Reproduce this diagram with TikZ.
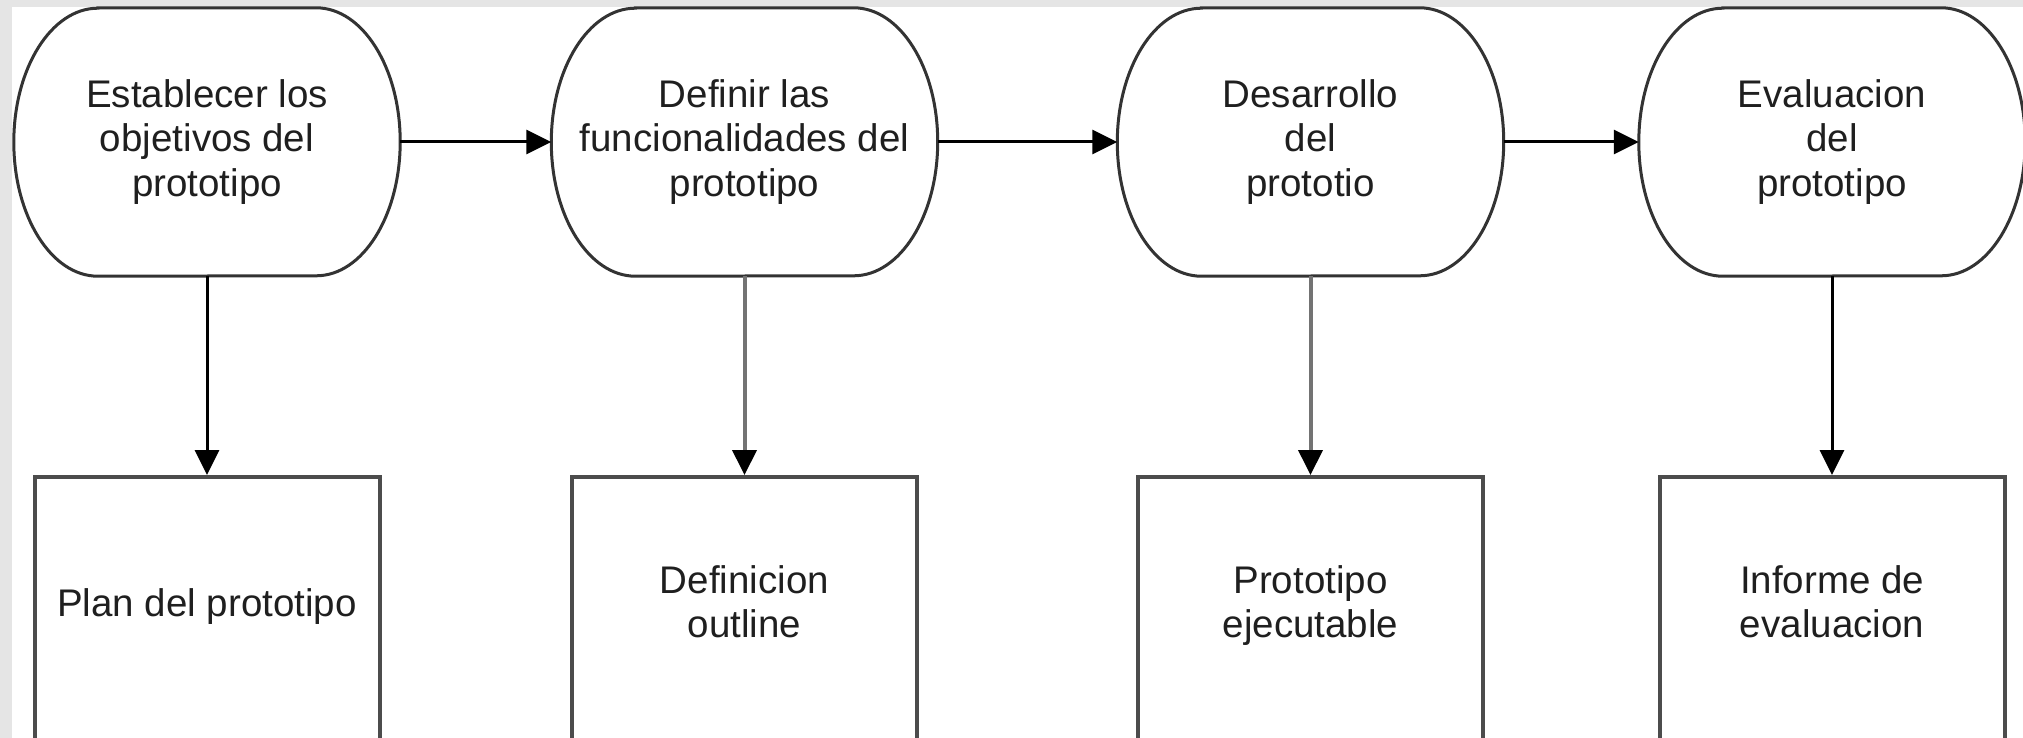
\documentclass[tikz,border=0pt]{standalone}
\usepackage{fontspec}
\setmainfont{Liberation Sans}
\usetikzlibrary{arrows.meta}
\begin{document}
\begin{tikzpicture}[x=1pt,y=1pt,
  txt/.style={align=center, font=\fontsize{38.5}{44.5}\selectfont, text=black!88, inner sep=0pt},
  term/.style={txt, minimum width=386pt, minimum height=268pt, draw=none},
  termline/.style={draw=black!80, line width=3pt},
  outbox/.style={draw=black!70, line width=4pt, fill=white, minimum width=345pt, minimum height=300pt, inner sep=0pt},
  flow/.style={draw=black, line width=3pt, -{Triangle[length=25pt,width=24pt,color=black]}},
  flowgray/.style={flow, draw=black!55, line width=4pt}
]
\useasboundingbox (0,0) rectangle (2023,-738);
\clip (0,0) rectangle (2023,-738);
\fill[black!10] (0,0) rectangle (2023,-738);
\fill[white] (12,-7) rectangle (2023,-738);

% terminator nodes
\node[term] (s1) at (207,-142) {Establecer los\\objetivos del\\prototipo};
\node[term] (s2) at (744.5,-142) {Definir las\\funcionalidades del\\prototipo};
\node[term] (s3) at (1310.5,-142) {Desarrollo\\del\\prototio};
\node[term] (s4) at (1832,-142) {Evaluacion\\del\\prototipo};

\foreach \s in {s1,s2,s3,s4}{
  \draw[termline] ([xshift=84pt]\s.north west) -- ([xshift=-84pt]\s.north east)
    arc[start angle=90, end angle=-90, x radius=84pt, y radius=134pt]
    -- ([xshift=84pt]\s.south west)
    arc[start angle=270, end angle=90, x radius=84pt, y radius=134pt] -- cycle;
}

% output boxes
\node[outbox, anchor=north] (b1) at (207,-475) {};
\node[outbox, anchor=north] (b2) at (744.5,-475) {};
\node[outbox, anchor=north] (b3) at (1310.5,-475) {};
\node[outbox, anchor=north] (b4) at (1832,-475) {};

\node[txt] (t1) at (207,-607) {Plan del prototipo};
\node[txt] (t2) at (744.5,-601.5) {Definicion\\outline};
\node[txt] (t3) at (1310.5,-605.5) {Prototipo\\ejecutable};
\node[txt] (t4) at (1832,-601.5) {Informe de\\evaluacion};

% connectors
\draw[flow] (s1.east) -- (s2.west);
\draw[flow] (s2.east) -- (s3.west);
\draw[flow] (s3.east) -- (s4.west);
\draw[flow] (s1.south) -- (b1.north);
\draw[flowgray] (s2.south) -- (b2.north);
\draw[flowgray] (s3.south) -- (b3.north);
\draw[flow] (s4.south) -- (b4.north);
\end{tikzpicture}
\end{document}
